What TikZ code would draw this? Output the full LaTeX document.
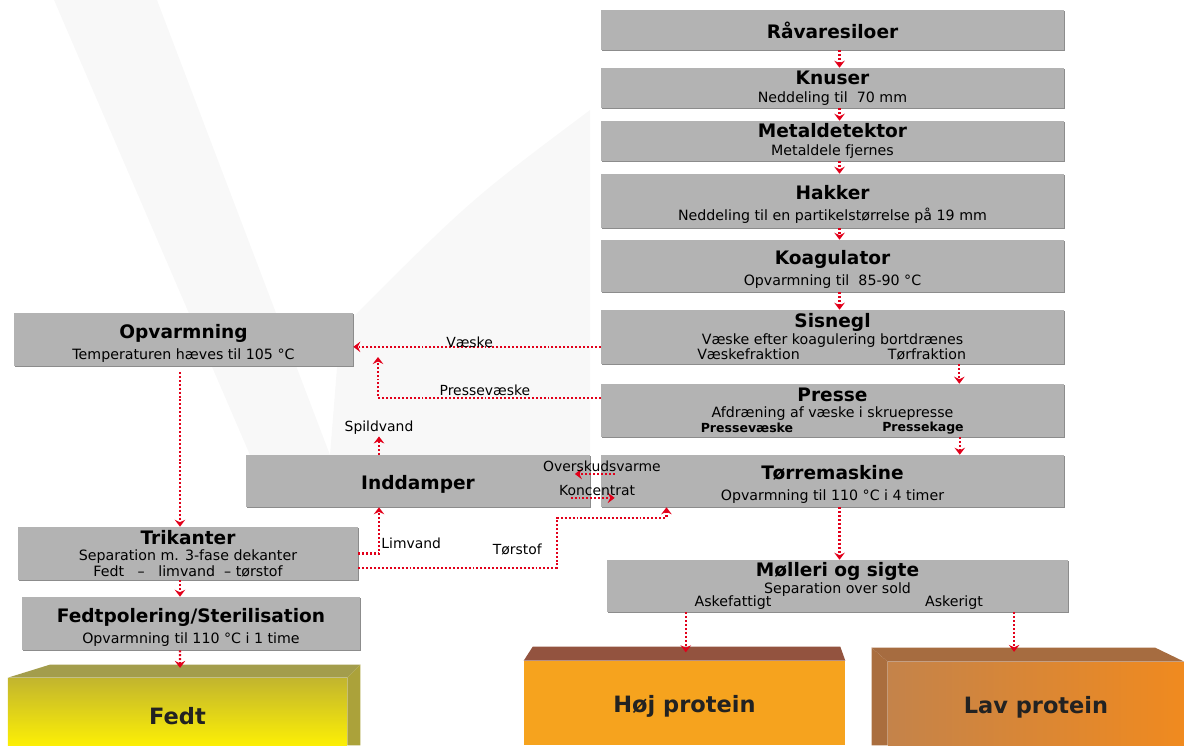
\documentclass[tikz,border=0pt]{standalone}
\usepackage{fontspec}
\setmainfont{DejaVu Sans}
\usetikzlibrary{arrows.meta,shadows}

\definecolor{boxgray}{HTML}{B3B3B3}
\definecolor{flowred}{HTML}{E2001A}
\definecolor{wmgray}{HTML}{F8F8F8}
\definecolor{fedtolive}{HTML}{C2B52E}
\definecolor{fedtyellow}{HTML}{FCEF05}
\definecolor{fedttop}{HTML}{A39D4C}
\definecolor{fedtside}{HTML}{ABA23A}
\definecolor{hojfront}{HTML}{F6A31E}
\definecolor{hojtop}{HTML}{93533F}
\definecolor{lavleft}{HTML}{C4834A}
\definecolor{lavright}{HTML}{F08A1F}
\definecolor{lavtop}{HTML}{A66C40}
\definecolor{lavside}{HTML}{AA6E3E}
\definecolor{blocktext}{HTML}{222222}

\newcommand{\boxtitle}[1]{{\fontsize{13.2}{13.2}\selectfont\bfseries #1}}
\newcommand{\boxtitlelow}[1]{{\fontsize{13.2}{13.2}\selectfont\bfseries\rule{0pt}{15.5pt}#1}}
\newcommand{\boxsub}[1]{{\fontsize{10.1}{12}\selectfont #1}}

\tikzset{
  stage/.style={fill=boxgray, align=center, inner sep=0pt,
    drop shadow={shadow xshift=1pt, shadow yshift=-1pt, fill=black!45, opacity=1},
    font=\fontsize{10.1}{13}\selectfont},
  frac/.style={font=\fontsize{10.1}{12}\selectfont, inner sep=0pt},
  lbl/.style={font=\fontsize{9.9}{12}\selectfont, inner sep=1pt},
  flow/.style={draw=flowred, line width=1.5pt, dash pattern=on 1.4pt off 1.4pt},
  block/.style={font=\fontsize{16}{16}\selectfont\bfseries, text=blocktext, inner sep=0pt},
}

\begin{document}
\begin{tikzpicture}[x=0.025cm, y=-0.025cm, >={Stealth[length=5pt,width=7.5pt,inset=1.8pt]}]
\useasboundingbox (0,0) rectangle (1184,745);

% vandmaerke
\fill[wmgray] (54,0) -- (157,0) -- (330,455) -- (250,455) -- cycle;
\fill[wmgray] (590,110) .. controls (470,200) .. (340,330) -- (330,455) -- (590,455) -- cycle;

\begin{scope}[every node/.style={stage, minimum width=11.575cm}]
    \node[minimum height=1cm]     (raw) at (832.5,30)  {\boxtitle{Råvaresiloer}};
    \node[minimum height=1cm]     (knu) at (832.5,88)  {\boxtitle{Knuser}\\\boxsub{Neddeling til\ \ 70 mm}};
    \node[minimum height=1cm]     (met) at (832.5,141) {\boxtitle{Metaldetektor}\\\boxsub{Metaldele fjernes}};
    \node[minimum height=1.35cm]  (hak) at (832.5,201) {\boxtitlelow{Hakker}\\[2pt]\boxsub{Neddeling til en partikelstørrelse på 19 mm}};
    \node[minimum height=1.3cm]   (koa) at (832.5,266) {\boxtitlelow{Koagulator}\\[2pt]\boxsub{Opvarmning til\ \ 85-90 °C}};
    \node[minimum height=1.35cm]  (sis) at (832.5,337) {\boxtitle{Sisnegl}\\[-1pt]\boxsub{Væske efter koagulering bortdrænes}\\[-2pt]\mbox{}};
    \node[minimum height=1.325cm] (pre) at (832.5,410.5) {\boxtitle{Presse}\\[-1pt]\boxsub{Afdræning af væske i skruepresse}\\[-2pt]\mbox{}};
    \node[minimum height=1.3cm]   (tor) at (832.5,481) {\boxtitlelow{Tørremaskine}\\[2pt]\boxsub{Opvarmning til 110 °C i 4 timer}};
    \node[minimum width=11.525cm, minimum height=1.3cm] (mol) at (837.5,586) {\boxtitle{Mølleri og sigte}\\[-1pt]\boxsub{Separation over sold}\\[-2pt]\mbox{}};
    \node[minimum width=8.475cm, minimum height=1.325cm] (opv) at (183.5,339.5) {\boxtitlelow{Opvarmning}\\[1.5pt]\boxsub{Temperaturen hæves til 105 °C}};
    \node[minimum width=8.6cm, minimum height=1.3cm]     (ind) at (418,481)  {\boxtitlelow{Inddamper}};
    \node[minimum width=8.5cm, minimum height=1.325cm]   (tri) at (188,553.5) {\boxtitle{Trikanter}\\[-1.5pt]\boxsub{Separation m. 3-fase dekanter}\\[-1.5pt]\boxsub{Fedt\ \ \ –\ \ \ limvand\ \ –\ tørstof}};
    \node[minimum width=8.45cm, minimum height=1.325cm]  (fpo) at (191,623.5) {\boxtitlelow{Fedtpolering/Sterilisation}\\[2pt]\boxsub{Opvarmning til 110 °C i 1 time}};
\end{scope}

\node[frac] (sisV) at (748.5,354) {Væskefraktion};
\node[frac] (sisT) at (927,354) {Tørfraktion};
\node[frac, font=\fontsize{8.9}{10}\selectfont\bfseries] (preV) at (747,428) {Pressevæske};
\node[frac, font=\fontsize{8.9}{10}\selectfont\bfseries] (preK) at (923,428) {Pressekage};
\node[frac] (molA) at (733,603) {Askefattigt};
\node[frac] (molR) at (954,603) {Askerigt};
\node[lbl] (spl) at (379,428) {Spildvand};

% produkter
\node[block, top color=fedtolive, bottom color=fedtyellow, minimum width=8.475cm, minimum height=1.675cm] (fedt) at (177.5,711.5) {\rule{0pt}{18pt}Fedt};
\fill[fedttop] (fedt.north west) -- ++(42,-13) -- ([shift={(13,-13)}]fedt.north east) -- (fedt.north east) -- cycle;
\fill[fedtside] (fedt.north east) -- ++(13,-13) -- ([shift={(13,0)}]fedt.south east) -- (fedt.south east) -- cycle;
\node[block, fill=hojfront, minimum width=8.025cm, minimum height=2.1cm] (hoj) at (684.5,703) {\rule{0pt}{17pt}Høj protein};
\fill[hojtop] (hoj.north west) -- ++(9,-14) -- ([shift={(-5,-14)}]hoj.north east) -- (hoj.north east) -- cycle;
\node[block, left color=lavleft, right color=lavright, minimum width=7.4cm, minimum height=2.075cm] (lav) at (1036,703.5) {\rule{0pt}{17pt}Lav protein};
\fill[lavside] (lav.north west) -- ++(-16,-14) -- ([shift={(-16,0)}]lav.south west) -- (lav.south west) -- cycle;
\fill[lavtop] ([shift={(-16,-14)}]lav.north west) -- ([shift={(-29,-14)}]lav.north east) -- (lav.north east) -- (lav.north west) -- cycle;

\coordinate (vjoin) at (378,357);
\coordinate (tbend) at (557,518);

\begin{scope}[every edge/.style={flow}]
    % hovedlinje
    \path [->] ([xshift=5pt]raw.south) edge ([xshift=5pt]knu.north);
    \path [->] ([xshift=5pt]knu.south) edge ([xshift=5pt]met.north);
    \path [->] ([xshift=5pt]met.south) edge ([xshift=5pt]hak.north);
    \path [->] ([xshift=5pt]hak.south) edge ([xshift=5pt]koa.north);
    \path [->] ([xshift=5pt]koa.south) edge ([xshift=5pt]sis.north);
    \path [->] ([xshift=-5pt]sis.south -| sisT.east) edge ([xshift=-5pt]pre.north -| sisT.east);
    \path [->] ([xshift=-3pt]pre.south -| preK.east) edge ([xshift=-3pt]tor.north -| preK.east);
    \path [->] ([xshift=5pt]tor.south) edge ([xshift=5pt]tor.south |- mol.north);
    \path [->] ([xshift=-6pt]mol.south -| molA.west) edge ([xshift=-6pt,yshift=6pt]hoj.north -| molA.west);
    \path [->] ([xshift=-15.6pt]mol.south -| lav.north) edge ([xshift=-15.6pt,yshift=7pt]lav.north);
    % fedtlinje
    \path [->] ([yshift=-7pt]sis.west) edge node[lbl, above=-2pt, pos=0.53] {Væske} ([yshift=-7pt]sis.west -| opv.east);
    \draw [flow, ->] ([yshift=8.9pt]pre.west) -| node[lbl, above, pos=0.26] {Pressevæske} (vjoin);
    \path [->] (ind.north -| spl.south) edge (spl.south);
    \path [->] ([xshift=-2.5pt,yshift=-4pt]opv.south) edge ([xshift=-2.5pt]opv.south |- tri.north);
    \path [->] ([xshift=-5.7pt]tri.south) edge ([xshift=-5.7pt]tri.south |- fpo.north);
    \path [->] ([xshift=-7.8pt]fpo.south) edge ([xshift=1.8pt,yshift=7pt]fedt.north);
    \draw [flow, ->] (tri.east) -| node[lbl, right, pos=0.61] {Limvand} (ind.south -| spl.south);
    \draw [flow, ->] ([yshift=-10pt]tri.east) -| node[lbl, above=7pt, pos=0.4] {Tørstof} (tbend) -| ([xshift=46.8pt]tor.south west);
    \path [->] ([shift={(10pt,5pt)}]tor.west) edge node[lbl, above, pos=0.32] {Overskudsvarme} ([shift={(-11pt,5pt)}]ind.east);
    \path [->] ([shift={(-14pt,-12pt)}]ind.east) edge node[lbl, above, pos=0.6] {Koncentrat} ([shift={(10pt,-12pt)}]tor.west);
\end{scope}
\end{tikzpicture}
\end{document}
